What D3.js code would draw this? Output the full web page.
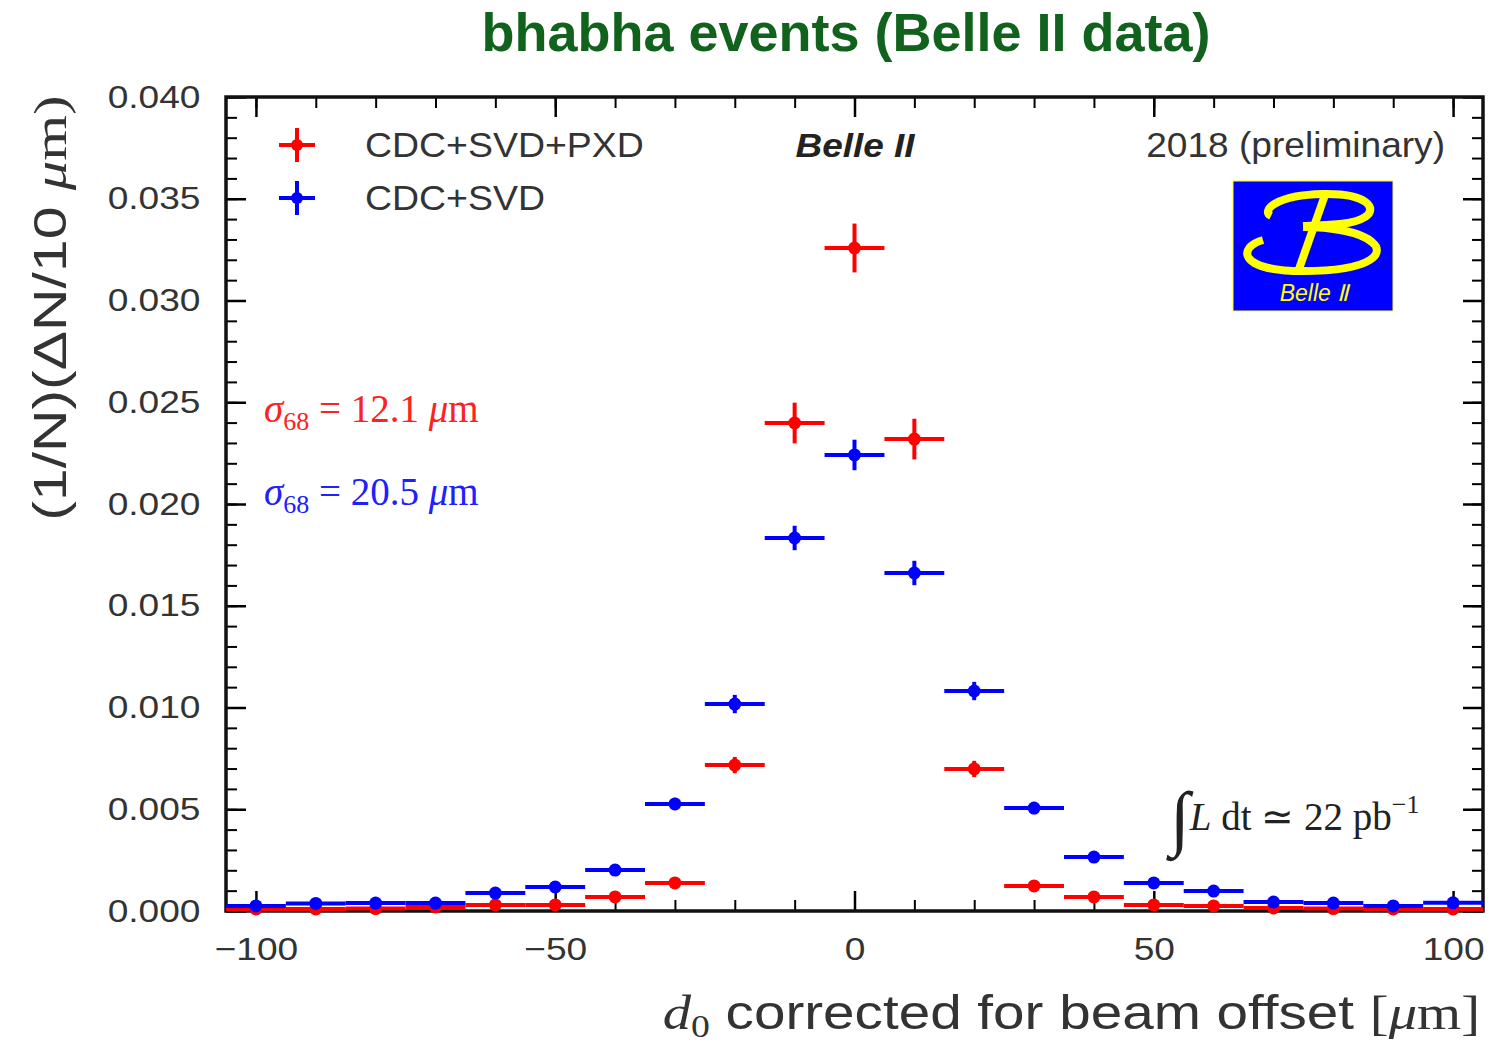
<!DOCTYPE html>
<html>
<head>
<meta charset="utf-8">
<style>
  body { margin: 0; background: white; }
  svg { display: block; }
</style>
</head>
<body>
<svg id="chart" width="1499" height="1044"></svg>
<script src="https://d3js.org/d3.v7.min.js"></script>
<script>
// bin centres in micrometres, 10 um bins
var binCentres = [-100,-90,-80,-70,-60,-50,-40,-30,-20,-10,0,10,20,30,40,50,60,70,80,90,100];

// CDC+SVD+PXD (red)
var redValues = [0.0001,0.0001,0.00012,0.0002,0.0003,0.0003,0.00069,0.00138,0.00717,0.02398,0.03258,0.02319,0.00698,0.00123,0.00069,0.0003,0.00025,0.00015,0.00012,0.0001,0.0001];
var redErrors = [0.0001,0.0001,0.0001,0.0001,0.0001,0.0001,0.00015,0.0002,0.0004,0.001,0.0012,0.001,0.0004,0.0002,0.00015,0.0001,0.0001,0.0001,0.0001,0.0001,0.0001];

// CDC+SVD (blue)
var blueValues = [0.00025,0.00037,0.00039,0.00039,0.00088,0.00118,0.00201,0.00526,0.01017,0.01833,0.02241,0.01661,0.01081,0.00506,0.00265,0.00138,0.00098,0.00044,0.00039,0.00025,0.0004];
var blueErrors = [0.0001,0.0001,0.0001,0.0001,0.00012,0.00015,0.0002,0.0003,0.00045,0.0006,0.00075,0.0006,0.00045,0.0003,0.0002,0.00015,0.00012,0.0001,0.0001,0.0001,0.0001];

var xMajorTicks = [-100,-50,0,50,100];
var yMajorTicks = [0,0.005,0.01,0.015,0.02,0.025,0.03,0.035,0.04];

var svg = d3.select('#chart');
var x = d3.scaleLinear().domain([-105,105]).range([226,1483]);
var y = d3.scaleLinear().domain([0,0.04]).range([911,97]);

var sans = '"Liberation Sans", Arial, sans-serif';
var serif = '"Liberation Serif", "Times New Roman", serif';
var grey = '#333';

// title
svg.append('text')
  .attr('x', 846).attr('y', 51)
  .attr('text-anchor','middle')
  .style('font-family', sans).style('font-weight','bold').style('font-size','54px')
  .attr('fill','#11621c')
  .text('bhabha events (Belle II data)');

// axes: minor ticks first, then major with labels
var xMinor = d3.range(-100,101,10);
var yMinor = d3.range(0,0.0405,0.001);

function minorAxis(axisFn, scale, vals, tr) {
  svg.append('g').attr('transform', tr)
    .call(axisFn(scale).tickValues(vals).tickSize(-11).tickFormat(''))
    .call(function(g){ g.select('.domain').remove(); g.selectAll('line').attr('stroke','#000').attr('stroke-width',2); });
}
minorAxis(d3.axisBottom, x, xMinor, 'translate(0,911)');
minorAxis(d3.axisTop, x, xMinor, 'translate(0,97)');
minorAxis(d3.axisLeft, y, yMinor, 'translate(226,0)');
minorAxis(d3.axisRight, y, yMinor, 'translate(1483,0)');

var fmtX = function(d){ return d < 0 ? '\u2212' + Math.abs(d) : d; };
var xb = svg.append('g').attr('transform','translate(0,911)')
  .call(d3.axisBottom(x).tickValues(xMajorTicks).tickSize(-20).tickPadding(26).tickFormat(fmtX));
var xt = svg.append('g').attr('transform','translate(0,97)')
  .call(d3.axisTop(x).tickValues(xMajorTicks).tickSize(-20).tickFormat(''));
var yl = svg.append('g').attr('transform','translate(226,0)')
  .call(d3.axisLeft(y).tickValues(yMajorTicks).tickSize(-20).tickPadding(22).tickFormat(d3.format('.3f')));
var yr = svg.append('g').attr('transform','translate(1483,0)')
  .call(d3.axisRight(y).tickValues(yMajorTicks).tickSize(-20).tickFormat(''));

[xb,xt,yl,yr].forEach(function(g){
  g.select('.domain').remove();
  g.selectAll('line').attr('stroke','#000').attr('stroke-width',2.5);
  g.selectAll('text')
    .style('font-family', sans).style('font-size','32px')
    .attr('fill', grey)
    .attr('transform','scale(1.16,1)');
});

// frame
svg.append('rect')
  .attr('x',226).attr('y',97).attr('width',1483-226).attr('height',911-97)
  .attr('fill','none').attr('stroke','#111').attr('stroke-width',3.5);

// error-bar points
function drawSeries(vals, errs, colour) {
  var pts = binCentres.map(function(c,i){ return {x:c, v:vals[i], e:errs[i]}; });
  var g = svg.append('g');
  g.selectAll('line.h').data(pts).enter().append('line')
    .attr('x1', function(d){ return x(d.x-5); })
    .attr('x2', function(d){ return x(d.x+5); })
    .attr('y1', function(d){ return y(d.v); })
    .attr('y2', function(d){ return y(d.v); })
    .attr('stroke', colour).attr('stroke-width',4);
  g.selectAll('line.v').data(pts).enter().append('line')
    .attr('x1', function(d){ return x(d.x); })
    .attr('x2', function(d){ return x(d.x); })
    .attr('y1', function(d){ return y(d.v - d.e); })
    .attr('y2', function(d){ return y(d.v + d.e); })
    .attr('stroke', colour).attr('stroke-width',4);
  g.selectAll('circle').data(pts).enter().append('circle')
    .attr('cx', function(d){ return x(d.x); })
    .attr('cy', function(d){ return y(d.v); })
    .attr('r', 6.5).attr('fill', colour);
}
drawSeries(redValues, redErrors, '#ff0000');
drawSeries(blueValues, blueErrors, '#0000ff');

// legend
var legend = [{label:'CDC+SVD+PXD', colour:'#ff0000', y:145}, {label:'CDC+SVD', colour:'#0000ff', y:198}];
legend.forEach(function(l){
  var g = svg.append('g').attr('transform','translate(297,' + l.y + ')');
  g.append('line').attr('x1',-18).attr('x2',18).attr('stroke',l.colour).attr('stroke-width',4);
  g.append('line').attr('y1',-17).attr('y2',17).attr('stroke',l.colour).attr('stroke-width',4);
  g.append('circle').attr('r',6).attr('fill',l.colour);
  svg.append('text').attr('transform','translate(365,' + (l.y+12) + ') scale(1.07,1)')
    .style('font-family',sans).style('font-size','35px').attr('fill',grey).text(l.label);
});

svg.append('text').attr('transform','translate(855,157) scale(1.12,1)')
  .attr('text-anchor','middle')
  .style('font-family',sans).style('font-size','33px').style('font-weight','bold').style('font-style','italic')
  .attr('fill','#222').text('Belle II');

svg.append('text').attr('transform','translate(1445,157) scale(1.06,1)')
  .attr('text-anchor','end')
  .style('font-family',sans).style('font-size','35px').attr('fill',grey).text('2018 (preliminary)');

// sigma annotations
function sigmaLabel(yPos, val, colour) {
  var t = svg.append('text').attr('x',264).attr('y',yPos)
    .style('font-family',serif).style('font-size','39px').attr('fill',colour);
  t.append('tspan').style('font-style','italic').text('\u03c3');
  t.append('tspan').attr('dy',8).style('font-size','26px').text('68');
  t.append('tspan').attr('dy',-8).text(' = ' + val + ' ');
  t.append('tspan').style('font-style','italic').text('\u03bc');
  t.append('tspan').text('m');
}
sigmaLabel(422, '12.1', '#ff2020');
sigmaLabel(505, '20.5', '#2020ff');

// luminosity
var lum = svg.append('text').attr('x',1170).attr('y',830)
  .style('font-family',serif).style('font-size','39px').attr('fill','#222');
lum.append('tspan').style('font-size','72px').style('font-style','italic').attr('dy',12).text('\u222b');
lum.append('tspan').attr('dy',-12).style('font-style','italic').text('L');
lum.append('tspan').text(' dt \u2243 22 pb');
lum.append('tspan').attr('dy',-17).style('font-size','26px').text('\u22121');

// axis titles
var xl = svg.append('text').attr('transform','translate(1480,1029) scale(1.18,1)').attr('text-anchor','end')
  .style('font-family',sans).style('font-size','48px').attr('fill',grey);
xl.append('tspan').style('font-family',serif).style('font-style','italic').text('d');
xl.append('tspan').style('font-family',serif).style('font-size','32px').attr('dy',8).text('0');
xl.append('tspan').attr('dy',-8).text(' corrected for beam offset ');
xl.append('tspan').style('font-family',serif).text('[');
xl.append('tspan').style('font-family',serif).style('font-style','italic').text('\u03bc');
xl.append('tspan').style('font-family',serif).text('m]');

var ylab = svg.append('text').attr('transform','translate(66,308) rotate(-90) scale(1.28,1)').attr('text-anchor','middle')
  .style('font-family',sans).style('font-size','46px').attr('fill',grey);
ylab.append('tspan').text('(1/N)(\u0394N/10 ');
ylab.append('tspan').style('font-family',serif).style('font-style','italic').text('\u03bc');
ylab.append('tspan').style('font-family',serif).text('m)');

// Belle II logo
var logo = svg.append('g').attr('transform','translate(1233,181)');
logo.append('rect').attr('width',160).attr('height',130).attr('fill','#0000ff').attr('stroke','#ffff00').attr('stroke-width',1);
logo.append('path')
  .attr('d','M38,35 C28,30 42,14 90,13 C135,12 145,28 132,36 C120,44 95,44 70,45')
  .attr('fill','none').attr('stroke','#ffff00').attr('stroke-width',8).attr('stroke-linecap','butt');
logo.append('path')
  .attr('d','M30,59 C5,66 4,90 70,90 C145,90 150,70 140,62 C128,50 95,46 70,46')
  .attr('fill','none').attr('stroke','#ffff00').attr('stroke-width',8);
logo.append('path').attr('d','M92,14 L66,88').attr('stroke','#ffff00').attr('stroke-width',8);
logo.append('text').attr('x',81).attr('y',120).attr('text-anchor','middle')
  .style('font-family',sans).style('font-style','italic').style('font-size','23px').attr('fill','#ffff00')
  .text('Belle \u2161');
</script>
</body>
</html>
